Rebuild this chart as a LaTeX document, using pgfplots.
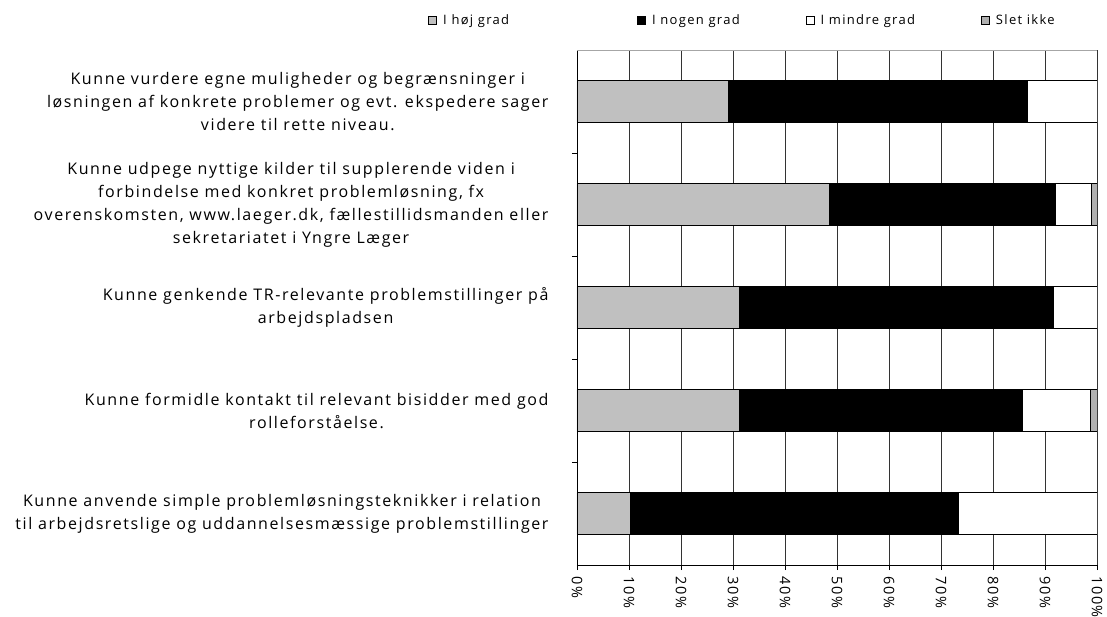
\documentclass[border=0pt]{standalone}
\usepackage{fontspec}
\setmainfont{Open Sans}[LetterSpace=10]
\usepackage{pgfplots}
\pgfplotsset{compat=1.18}
\definecolor{hoej}{HTML}{C0C0C0}
\definecolor{slet}{HTML}{B0B0B0}
\begin{document}
\begin{tikzpicture}
\begin{axis}[
    xbar stacked, scale only axis, width=520pt, height=515pt,
    xmin=0, xmax=100, ymin=-0.5, ymax=4.5, y dir=reverse,
    bar width=0.41,
    axis x line*=bottom, axis y line*=left,
    axis line style={black, line width=0.9pt},
    tick align=outside, major tick length=5pt,
    tick style={black, line width=0.9pt},
    xtick={0,10,...,100},
    /pgf/number format/assume math mode=true,
    xticklabel={\pgfmathprintnumber{\tick}\%},
    xticklabel style={rotate=-90, anchor=west, font=\fontsize{14.5}{16}\selectfont, xshift=3pt},
    xmajorgrids, major x grid style={black!80, line width=0.8pt},
    ytick={0.5,1.5,2.5,3.5}, yticklabels={},
    extra y ticks={0,1,2,3,4},
    extra y tick labels={
        {Kunne vurdere egne muligheder og begrænsninger i\\løsningen af konkrete problemer og evt. ekspedere sager\\videre til rette niveau.},
        {Kunne udpege nyttige kilder til supplerende viden i\\forbindelse med konkret problemløsning, fx\\overenskomsten, www.laeger.dk, fællestillidsmanden eller\\sekretariatet i Yngre Læger},
        {Kunne genkende TR-relevante problemstillinger på\\arbejdspladsen},
        {Kunne formidle kontakt til relevant bisidder med god\\rolleforståelse.},
        {Kunne anvende simple problemløsningsteknikker i relation\\til arbejdsretslige og uddannelsesmæssige problemstillinger}},
    extra y tick style={major tick length=0pt},
    yticklabel style={align=center, font=\fontsize{16}{23}\selectfont, xshift=-25pt},
    legend columns=-1,
    legend style={draw=none, at={(-0.292,1.058)}, anchor=west,
        font=\fontsize{13}{15}\selectfont,
        /tikz/every odd column/.append style={column sep=4pt},
        /tikz/every even column/.append style={column sep=64pt}},
    legend image code/.code={\draw[#1, draw=black, line width=0.9pt] (0pt,-4pt) rectangle (8pt,4pt);},
]
\addplot[fill=hoej, draw=black, line width=0.9pt] coordinates {(29.2,0) (48.5,1) (31.2,2) (31.2,3) (10.2,4)};
\addplot[fill=black, draw=black, line width=0.9pt] coordinates {(57.5,0) (43.6,1) (60.5,2) (54.5,3) (63.1,4)};
\addplot[fill=white, draw=black, line width=0.9pt] coordinates {(13.3,0) (6.9,1) (8.3,2) (13.1,3) (26.7,4)};
\addplot[fill=slet, draw=black, line width=0.9pt] coordinates {(0,0) (1.0,1) (0,2) (1.2,3) (0,4)};
\legend{I høj grad\hspace*{62pt}, I nogen grad, I mindre grad, Slet ikke}
\draw[gray!70, line width=0.9pt] (axis description cs:0,1) -- (axis description cs:1,1);
\end{axis}
\pgfresetboundingbox
\path ([shift={(-577pt,-51pt)}]current axis.south west) rectangle ([shift={(10pt,50pt)}]current axis.north east);
\end{tikzpicture}
\end{document}
